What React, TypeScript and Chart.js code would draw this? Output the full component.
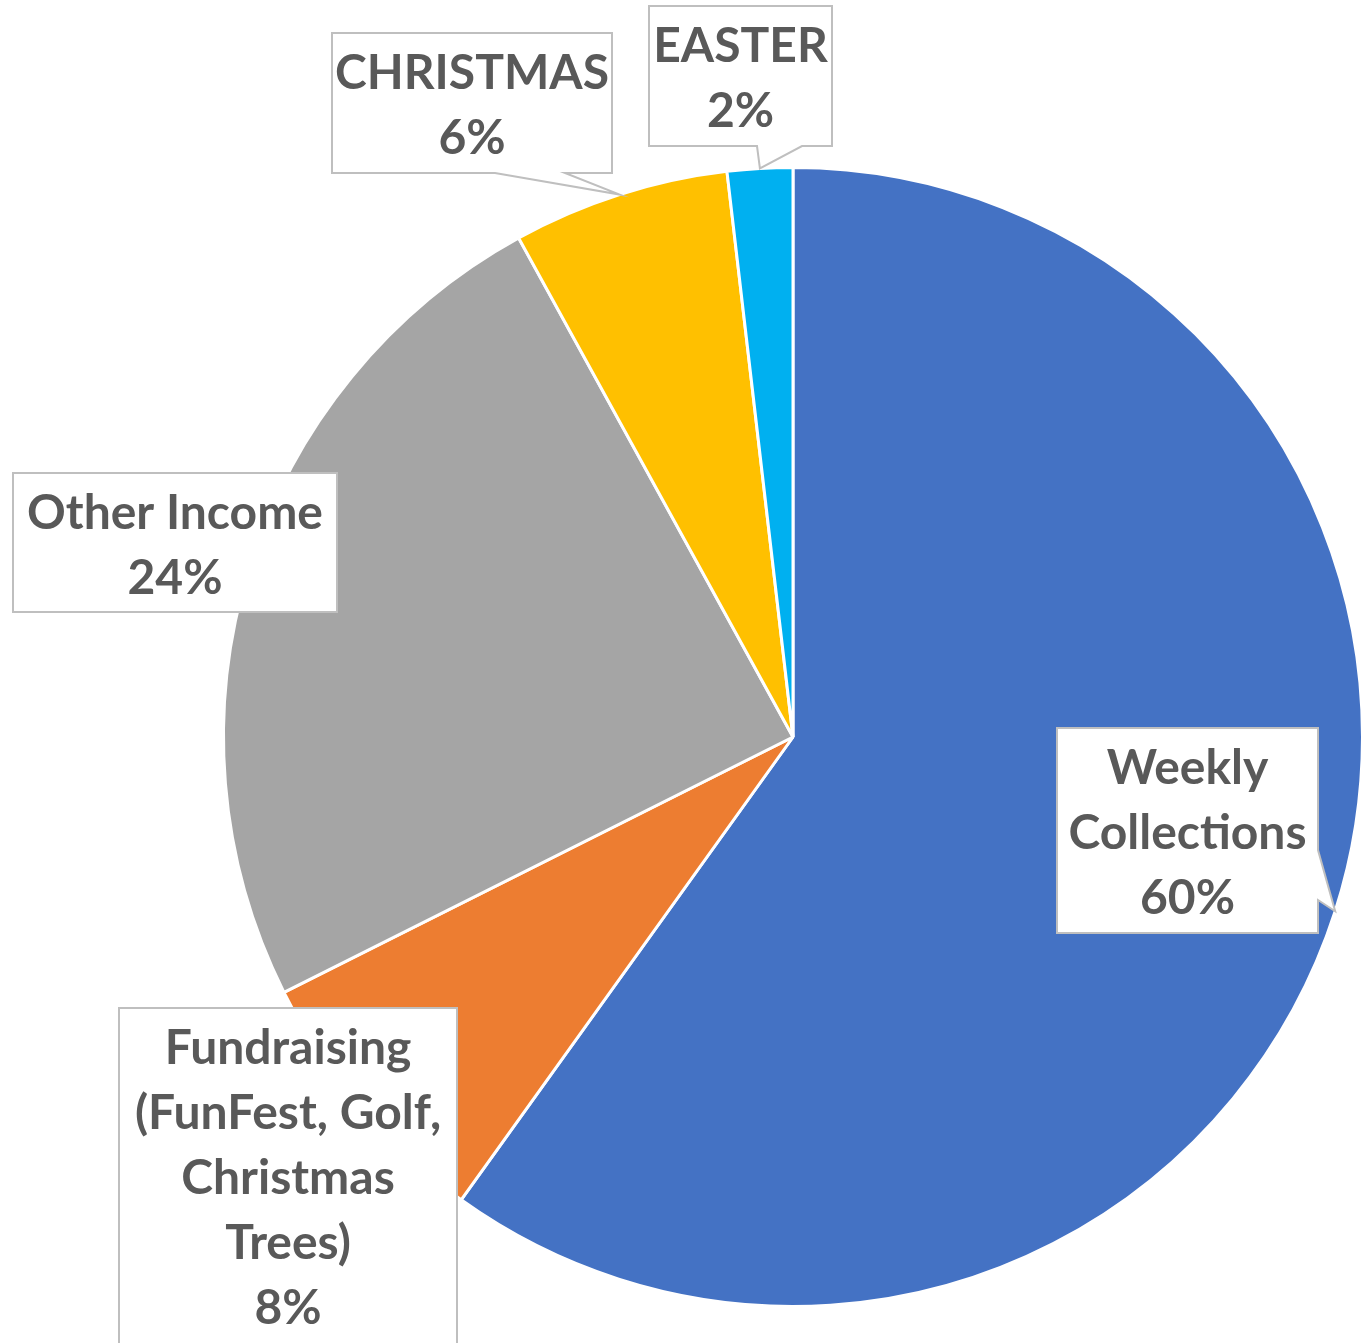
import React, { useEffect, useRef } from "react";
import { Chart, registerables } from "chart.js";

Chart.register(...registerables);

// ---- data ----
const categories = [
  "Weekly Collections",
  "Fundraising (FunFest, Golf, Christmas Trees)",
  "Other Income",
  "CHRISTMAS",
  "EASTER",
];
const values = [59.9, 7.7, 24.4, 6.15, 1.85];
const labelLines = [
  ["Weekly", "Collections"],
  ["Fundraising", "(FunFest, Golf,", "Christmas", "Trees)"],
  ["Other Income"],
  ["CHRISTMAS"],
  ["EASTER"],
];
const colors = ["#4472C4", "#ED7D31", "#A5A5A5", "#FFC000", "#00B0F0"];

// ---- label box layout (annotation placement, not data) ----
type Layout = {
  box: [number, number, number, number];
  side: "none" | "bottom" | "right";
  base: [number, number];
};
const labelLayout: Layout[] = [
  { box: [1057, 728, 1318, 933], side: "right", base: [850, 900] },
  { box: [119, 1008, 457, 1370], side: "none", base: [0, 0] },
  { box: [13, 473, 337, 612], side: "none", base: [0, 0] },
  { box: [332, 33, 612, 173], side: "bottom", base: [565, 495] },
  { box: [649, 6, 832, 146], side: "bottom", base: [802, 757] },
];

const FONT = "bold 48px Lato, 'Open Sans', sans-serif";
const TEXT_COLOR = "#595959";
const LINE_H = 65;

const calloutPlugin = {
  id: "callouts",
  afterDatasetsDraw(chart: any) {
    const ctx: CanvasRenderingContext2D = chart.ctx;
    const meta = chart.getDatasetMeta(0);
    const total = values.reduce((a, b) => a + b, 0);
    meta.data.forEach((arc: any, i: number) => {
      const p = arc.getProps(["x", "y", "startAngle", "endAngle", "outerRadius"], true);
      const mid = (p.startAngle + p.endAngle) / 2;
      const r = p.outerRadius;
      const tx = p.x + Math.cos(mid) * r;
      const ty = p.y + Math.sin(mid) * r;
      const L = labelLayout[i];
      const [l, t, rr, b] = L.box;
      ctx.save();
      ctx.beginPath();
      ctx.moveTo(l, t);
      ctx.lineTo(rr, t);
      if (L.side === "right") {
        ctx.lineTo(rr, L.base[0]);
        ctx.lineTo(tx, ty);
        ctx.lineTo(rr, L.base[1]);
      }
      ctx.lineTo(rr, b);
      if (L.side === "bottom") {
        ctx.lineTo(L.base[0], b);
        ctx.lineTo(tx, ty);
        ctx.lineTo(L.base[1], b);
      }
      ctx.lineTo(l, b);
      ctx.closePath();
      ctx.fillStyle = "#FFFFFF";
      ctx.fill();
      ctx.strokeStyle = "#BFBFBF";
      ctx.lineWidth = 2;
      ctx.lineJoin = "miter";
      ctx.stroke();

      const pct = Math.round((values[i] / total) * 100) + "%";
      const lines = [...labelLines[i], pct];
      ctx.font = FONT;
      ctx.fillStyle = TEXT_COLOR;
      ctx.textAlign = "center";
      ctx.textBaseline = "alphabetic";
      const cx = (l + rr) / 2;
      lines.forEach((s, k) => {
        ctx.fillText(s, cx, t + 56 + k * LINE_H);
      });
      ctx.restore();
    });
  },
};

export default function App() {
  const ref = useRef<HTMLCanvasElement | null>(null);
  useEffect(() => {
    if (!ref.current) return;
    const chart = new Chart(ref.current, {
      type: "pie",
      data: {
        labels: categories,
        datasets: [
          {
            data: values,
            backgroundColor: colors,
            borderColor: "#FFFFFF",
            borderWidth: 3,
          },
        ],
      },
      options: {
        animation: false,
        responsive: false,
        devicePixelRatio: 1,
        layout: { padding: { left: 222, top: 166, right: 7, bottom: 35 } },
        plugins: {
          legend: { display: false },
          tooltip: { enabled: false },
          title: { display: false },
        },
      },
      plugins: [calloutPlugin],
    });
    return () => chart.destroy();
  }, []);
  return (
    <div style={{ position: "fixed", left: 0, top: 0, width: 1371, height: 1343, background: "#fff" }}>
      <canvas ref={ref} width={1371} height={1343} />
    </div>
  );
}
